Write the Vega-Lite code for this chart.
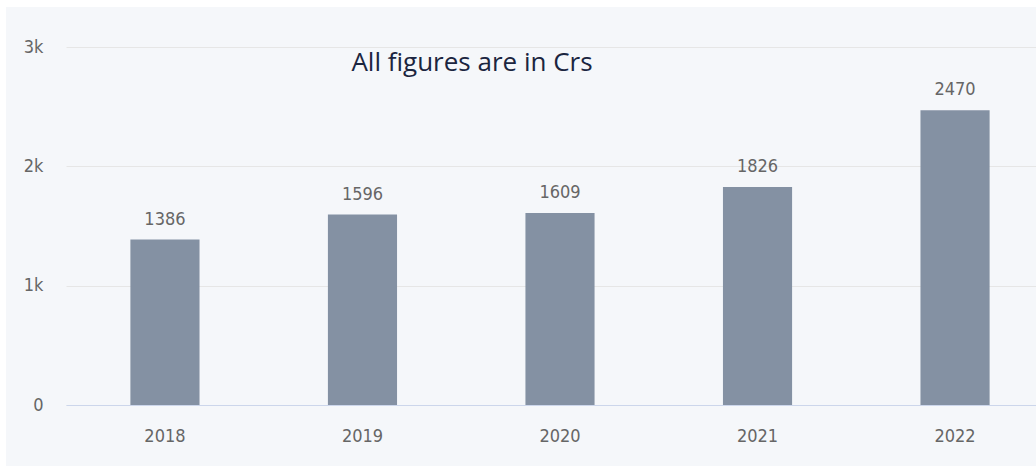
{
  "$schema": "https://vega.github.io/schema/vega-lite/v6.json",
  "autosize": "none",
  "padding": {"left": 6, "top": 7, "right": 0, "bottom": 0},
  "width": 1030,
  "height": 459,
  "background": "#ffffff",
  "config": {
    "view": {"fill": "#f5f7fa", "stroke": null},
    "font": "DejaVu Sans Condensed"
  },
  "title": {
    "text": "All figures are in Crs",
    "orient": "top",
    "anchor": "middle",
    "frame": "group",
    "offset": -90,
    "dx": -49,
    "baseline": "alphabetic",
    "font": "Open Sans",
    "fontSize": 26,
    "fontWeight": "normal",
    "color": "#1b2540"
  },
  "data": {
    "values": [
      {"year": "2018", "value": 1386},
      {"year": "2019", "value": 1596},
      {"year": "2020", "value": 1609},
      {"year": "2021", "value": 1826},
      {"year": "2022", "value": 2470}
    ]
  },
  "encoding": {
    "x": {
      "field": "year",
      "type": "ordinal",
      "scale": {"range": [60, 1048], "paddingInner": 0.65, "paddingOuter": 0.326},
      "axis": {
        "title": null,
        "orient": "bottom",
        "offset": -61,
        "labelAngle": 0,
        "ticks": false,
        "domain": true,
        "domainColor": "#ccd6eb",
        "domainWidth": 1,
        "labelPadding": 22,
        "labelFont": "DejaVu Sans Condensed",
        "labelFontSize": 18,
        "labelColor": "#666666",
        "grid": false
      }
    },
    "y": {
      "field": "value",
      "type": "quantitative",
      "scale": {"domain": [0, 3000], "range": [398, 40], "nice": false},
      "axis": {
        "title": null,
        "orient": "left",
        "offset": -39,
        "values": [0, 1000, 2000, 3000],
        "labelExpr": "datum.value == 0 ? '0' : (datum.value / 1000) + 'k'",
        "ticks": false,
        "domain": false,
        "labelPadding": 2,
        "labelFont": "DejaVu Sans Condensed",
        "labelFontSize": 18,
        "labelColor": "#666666",
        "grid": true,
        "gridColor": "#e6e6e6",
        "gridWidth": 1
      }
    }
  },
  "layer": [
    {
      "mark": {"type": "bar", "color": "#8491a3"}
    },
    {
      "mark": {
        "type": "text",
        "baseline": "alphabetic",
        "dy": -15,
        "font": "DejaVu Sans Condensed",
        "fontSize": 18,
        "color": "#666666"
      },
      "encoding": {"text": {"field": "value", "type": "quantitative", "format": "d"}}
    }
  ]
}
